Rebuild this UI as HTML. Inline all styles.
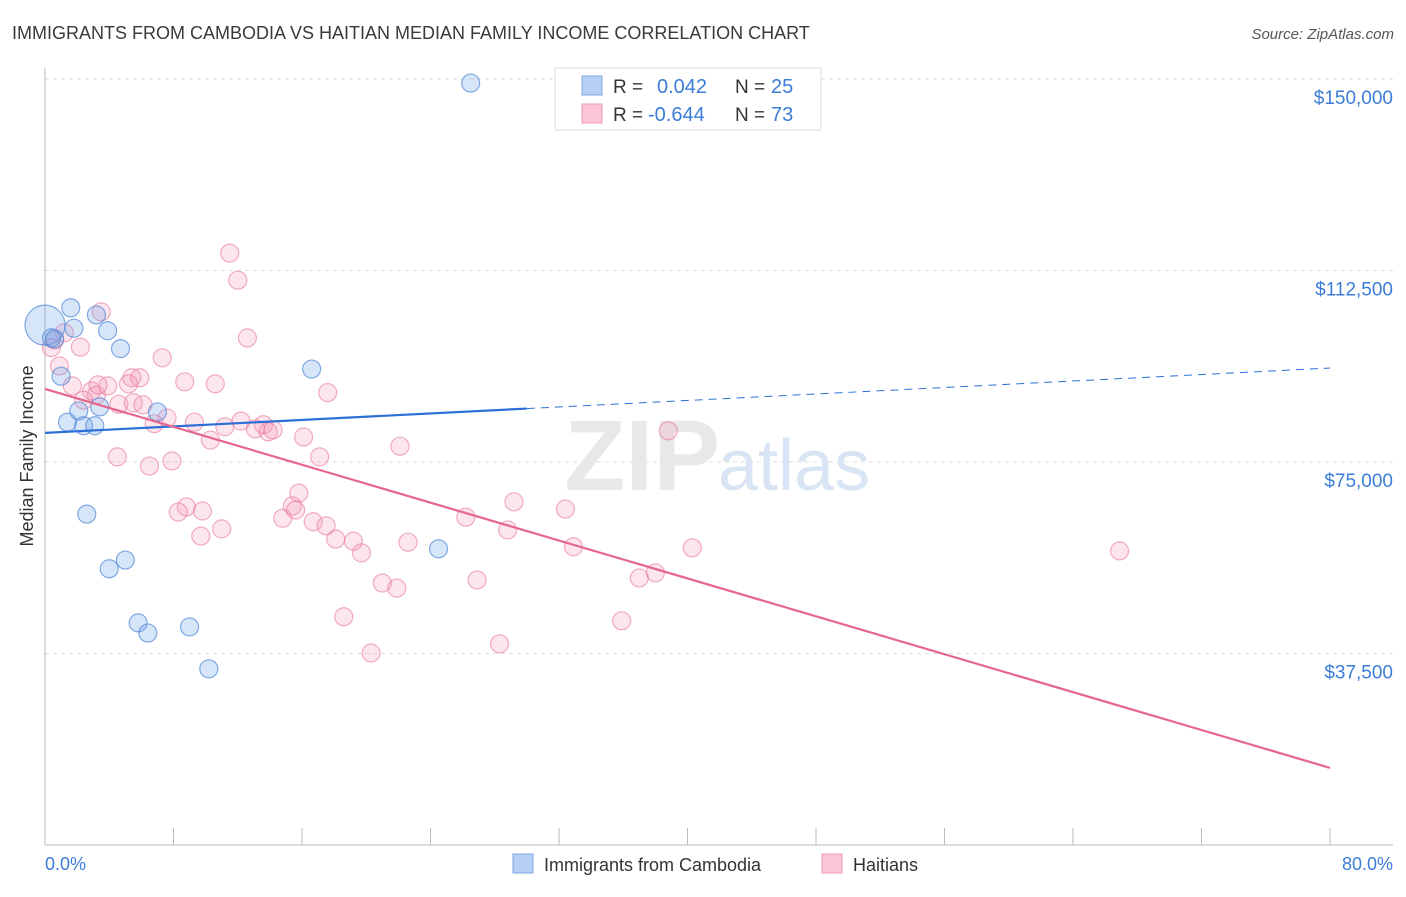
<!DOCTYPE html>
<html><head><meta charset="utf-8"><style>
body{margin:0;background:#fff;font-family:"Liberation Sans",sans-serif;}
svg text{font-family:"Liberation Sans",sans-serif;}
</style></head><body>
<svg id="chart" width="1406" height="892">
<text x="12" y="39" font-size="18" fill="#3a3a3a">IMMIGRANTS FROM CAMBODIA VS HAITIAN MEDIAN FAMILY INCOME CORRELATION CHART</text>
<text x="1394" y="39" font-size="15" fill="#555" font-style="italic" text-anchor="end">Source: ZipAtlas.com</text>
<g id="grid"></g>
<text x="720" y="490" font-size="100" fill="#e8e8e8" text-anchor="end" font-family="Liberation Serif" font-weight="bold">ZIP</text>
<text x="718" y="490" font-size="72" fill="#d9e5f4">atlas</text>
<line x1="45" y1="68" x2="45" y2="845" stroke="#bbb"/>
<line x1="45" y1="845" x2="1393" y2="845" stroke="#bbb"/>
<g id="xticks"></g>
<text transform="translate(33,456) rotate(-90)" font-size="18" fill="#333" text-anchor="middle">Median Family Income</text>
<text x="45" y="870" font-size="18" fill="#3b7dd8">0.0%</text>
<text x="1393" y="870" font-size="18" fill="#3b7dd8" text-anchor="end">80.0%</text>
<g id="pts"></g>
<g id="lines"></g>
<g>
<rect x="555" y="68" width="266" height="62" fill="#fff" stroke="#ddd"/>
<rect x="582" y="76" width="20" height="19" fill="#b7d0f3" stroke="#7fa7e3"/>
<rect x="582" y="104" width="20" height="19" fill="#fcc5d6" stroke="#f09ab5"/>
<text x="613" y="93" font-size="19" fill="#333">R =</text>
<text x="657" y="93" font-size="20" fill="#3b7dd8">0.042</text>
<text x="735" y="93" font-size="19" fill="#333">N =</text>
<text x="771" y="93" font-size="20" fill="#3b7dd8">25</text>
<text x="613" y="121" font-size="19" fill="#333">R =</text>
<text x="648" y="121" font-size="20" fill="#3b7dd8">-0.644</text>
<text x="735" y="121" font-size="19" fill="#333">N =</text>
<text x="771" y="121" font-size="20" fill="#3b7dd8">73</text>
</g>
<g>
<rect x="513" y="854" width="20" height="19" fill="#b7d0f3" stroke="#7fa7e3"/>
<text x="544" y="871" font-size="18" fill="#333">Immigrants from Cambodia</text>
<rect x="822" y="854" width="20" height="19" fill="#fcc5d6" stroke="#f09ab5"/>
<text x="853" y="871" font-size="18" fill="#333">Haitians</text>
</g>
</svg>
<script>
const yTicks=[150000,112500,75000,37500];
const yTickLabels=["$150,000","$112,500","$75,000","$37,500"];
const xTicks=[0,8,16,24,32,40,48,56,64,72,80];
const blueX=[26.5,0.0,1.6,3.2,1.8,3.9,4.7,0.6,16.6,1.0,1.4,2.1,3.4,7.0,2.4,3.1,2.6,4.0,5.0,5.8,6.4,9.0,10.2,24.5,0.4];
const blueY=[149200,101800,105200,103800,101200,100700,97200,99100,93200,91800,82800,85000,85800,84800,82100,82100,64800,54100,55800,43500,41500,42700,34500,58000,99300];
const pinkX=[11.5,12.0,3.5,1.2,0.6,0.4,2.2,12.6,7.3,0.9,1.7,5.4,8.7,10.6,17.6,2.9,3.2,3.9,2.4,4.6,5.9,5.2,5.5,6.1,7.6,6.8,9.3,11.2,12.2,13.1,13.6,13.9,14.2,10.3,16.1,17.1,22.1,38.8,4.5,6.5,7.9,15.8,8.8,8.3,9.8,9.7,11.0,14.8,15.4,15.6,16.7,17.5,18.1,19.2,19.7,22.6,26.2,28.8,29.2,32.4,32.9,21.0,21.9,26.9,37.0,38.0,40.3,18.6,20.3,28.3,35.9,66.9,3.3];
const pinkY=[115900,110600,104400,100300,98900,97400,97500,99300,95400,93800,89900,91500,90700,90300,88600,88900,88100,89900,87100,86300,91500,90300,86600,86200,83600,82500,82800,81900,83000,81500,82300,80900,81300,79300,79900,76000,78100,81100,76000,74200,75200,68900,66200,65200,65400,60500,61900,64000,66400,65600,63300,62500,59900,59500,57200,59300,64200,61700,67200,65800,58400,51300,50300,51900,52300,53300,58200,44700,37600,39400,43900,57600,90100];
const blueTrend=[80700,93400]; const blueSolidEnd=30;
const pinkTrend=[89300,15100];
const NS="http://www.w3.org/2000/svg";
const X=p=>45+p*1285/80;
const Y=v=>79+(150000-v)/37500*191.5;
function mk(t,a,parent){const e=document.createElementNS(NS,t);for(const k in a)e.setAttribute(k,a[k]);document.getElementById(parent).appendChild(e);return e;}
yTicks.forEach((v,i)=>{
 const l=mk('line',{x1:45,x2:1393,y1:Y(v),y2:Y(v),stroke:'#ddd','stroke-dasharray':'4,4'},'grid');
 
 
 const t=mk('text',{x:1393,y:Y(v)+25,'font-size':19,fill:'#3b7dd8','text-anchor':'end'},'grid');
 t.textContent=yTickLabels[i];
 
 
});
xTicks.forEach(p=>{
 const l=mk('line',{x1:X(p),x2:X(p),y1:828,y2:845,stroke:'#bbb'},'xticks');
 
 
});
pinkX.forEach((p,i)=>{
 const c=mk('circle',{cx:X(p),cy:Y(pinkY[i]),r:9,fill:'rgba(244,150,180,0.25)',stroke:'rgba(232,120,158,0.6)','stroke-width':1.2},'pts');
 
 
});
blueX.forEach((p,i)=>{
 const c=mk('circle',{cx:X(p),cy:Y(blueY[i]),r:i===1?20:9,fill:'rgba(110,160,235,0.28)',stroke:'rgba(80,135,215,0.7)','stroke-width':1.2},'pts');
 
 
});
const bAt=p=>blueTrend[0]+(blueTrend[1]-blueTrend[0])*p/80;
let l1=mk('line',{x1:X(0),y1:Y(bAt(0)),x2:X(blueSolidEnd),y2:Y(bAt(blueSolidEnd)),stroke:'#2c6fd6','stroke-width':2.2},'lines');


let l2=mk('line',{x1:X(blueSolidEnd),y1:Y(bAt(blueSolidEnd)),x2:X(80),y2:Y(bAt(80)),stroke:'#2c6fd6','stroke-width':1,'stroke-dasharray':'8,6'},'lines');


let l3=mk('line',{x1:X(0),y1:Y(pinkTrend[0]),x2:X(80),y2:Y(pinkTrend[1]),stroke:'#e5668f','stroke-width':2.2},'lines');


</script>
</body></html>
